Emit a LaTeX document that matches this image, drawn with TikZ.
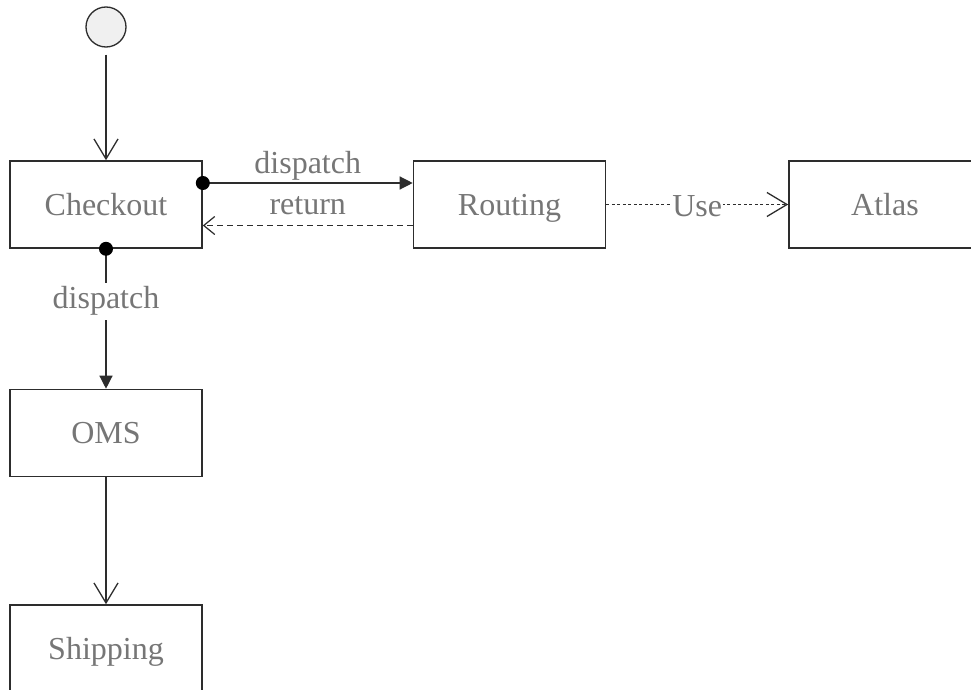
\documentclass[tikz,border=0pt]{standalone}
\usepackage{fontspec}
\setmainfont{Liberation Serif}
\usetikzlibrary{arrows.meta}
\definecolor{txt}{RGB}{118,118,118}
\definecolor{edge}{RGB}{45,45,45}
\definecolor{startfill}{RGB}{240,240,240}

\begin{document}
\begin{tikzpicture}[x=1pt,y=-1pt,
  labelfont/.style={font=\fontsize{32}{38}\selectfont},
  box/.style={draw=edge, line width=1.6pt, rectangle, minimum width=192pt,
    minimum height=87pt, inner sep=0pt, text=txt, labelfont,
    text height=24pt, text depth=3pt},
  lbl/.style={text=txt, labelfont, inner sep=1pt},
  conn/.style={draw=edge, line width=1.3pt},
  openhead/.style={-{Straight Barb[length=20pt,width=24pt,line width=1.3pt]}},
  smallopen/.style={-{Straight Barb[length=11pt,width=18pt,line width=1.2pt]}},
  solidhead/.style={-{Triangle[length=13pt,width=13pt]}},
  dotend/.style={fill=black},
]
\useasboundingbox (0,0) rectangle (971,690);
\fill[white] (0,0) rectangle (971,690);
\clip (0,0) rectangle (971,690);

% initial state
\node[circle, draw=edge, fill=startfill, line width=1.3pt, minimum size=40pt,
  inner sep=0pt] (start) at (106,27) {};

% components
\node[box] (checkout) at (106,204.5) {Checkout};
\node[box] (routing)  at (509.5,204.5) {Routing};
\node[box] (atlas)    at (885,204.5) {Atlas};
\node[box] (oms)      at (106,433) {OMS};
\node[box] (shipping) at (106,648.5) {Shipping};

% connector end points on the box borders
\path (checkout.east) ++(0,-21.5) coordinate (cOut);
\path (routing.west)  ++(0,-21.5) coordinate (rIn);
\path (checkout.east) ++(0,21)    coordinate (cBack);
\path (routing.west)  ++(0,21)    coordinate (rBack);

% start -> Checkout
\draw[conn, openhead, shorten <=7pt] (start) -- (checkout);

% Checkout -> Routing (dispatch)
\draw[conn, solidhead] (cOut) -- node[lbl, anchor=base, yshift=10pt] {dispatch} (rIn);
\fill[dotend] (cOut) circle (7pt);

% Routing -> Checkout (return)
\draw[conn, smallopen, dash pattern=on 6pt off 4pt] (rBack) -- node[lbl, anchor=base, yshift=11pt] {return} (cBack);

% Routing -> Atlas (Use)
\draw[conn, openhead, line width=1.5pt, dash pattern=on 3pt off 2.5pt] (routing) -- node[lbl, fill=white, inner sep=1pt, yshift=-2pt] {Use} (atlas);

% Checkout -> OMS (dispatch)
\draw[conn, solidhead] (checkout.south) -- node[lbl, pos=0.36, fill=white, inner sep=4pt, yshift=-2pt] {dispatch} (oms.north);
\fill[dotend] (checkout.south) circle (7pt);

% OMS -> Shipping
\draw[conn, openhead] (oms) -- (shipping);
\end{tikzpicture}
\end{document}
